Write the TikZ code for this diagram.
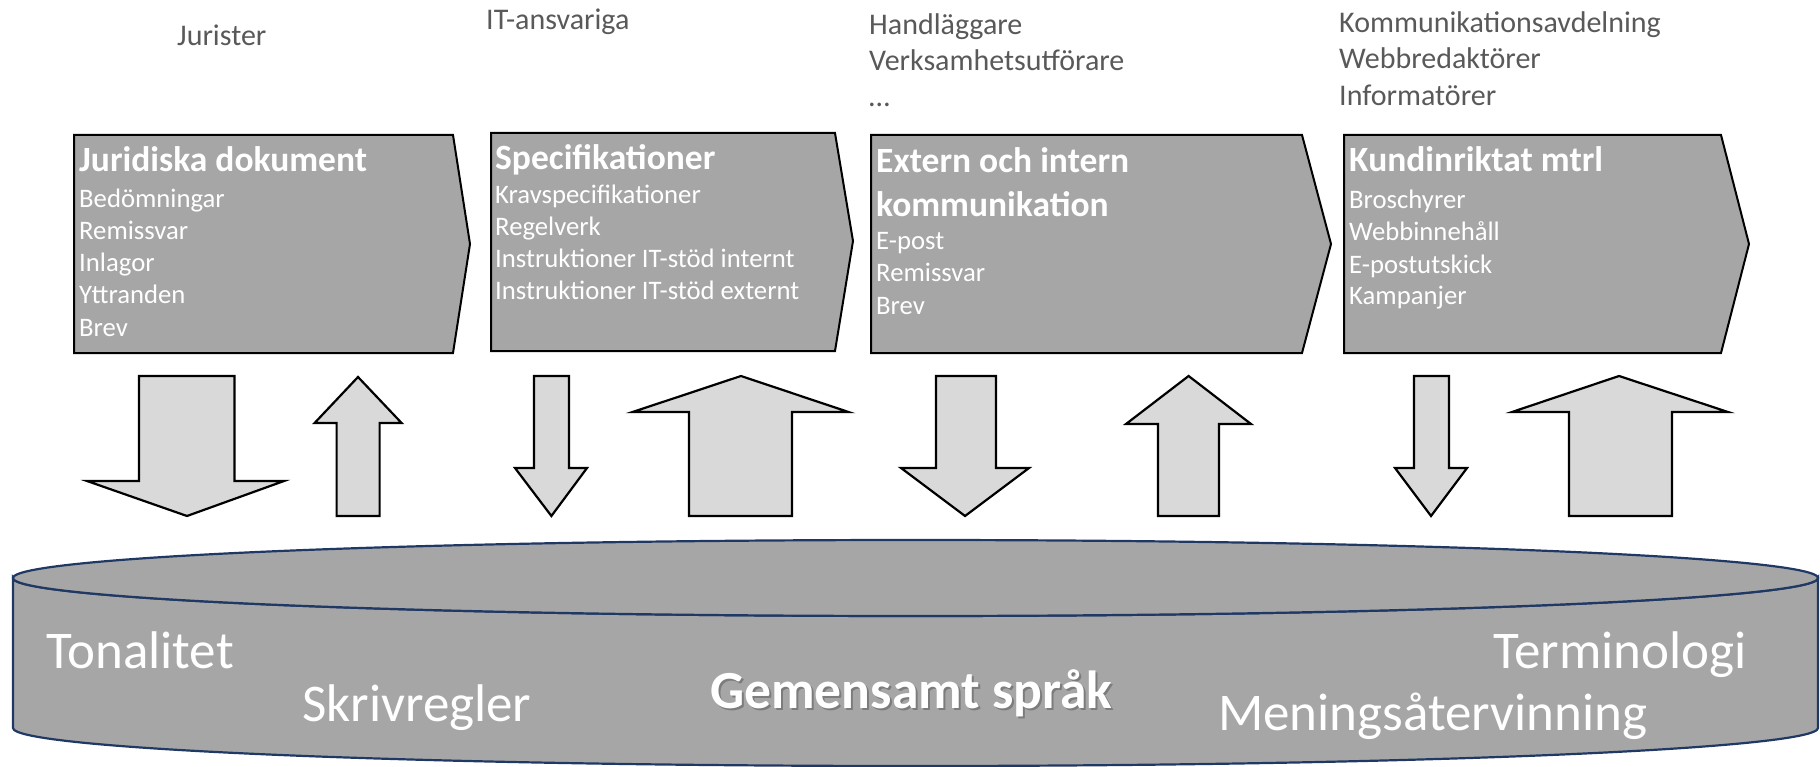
\documentclass[tikz,border=0pt]{standalone}
\usepackage{fontspec}
\setmainfont{Carlito}
\usetikzlibrary{positioning}
\definecolor{boxgray}{HTML}{A6A6A6}
\definecolor{arrgray}{HTML}{D9D9D9}
\definecolor{labgray}{HTML}{595959}
\definecolor{navy}{HTML}{203864}
\tikzset{
  chevbox/.style={fill=boxgray, draw=black, line width=2pt, line join=miter},
  blockarrow/.style={fill=arrgray, draw=black, line width=2.2pt, line join=miter},
  cylbody/.style={fill=boxgray, draw=navy, line width=2.2pt},
  toplabel/.style={anchor=base west, inner sep=0pt, text=labgray, font=\fontsize{30}{36}\selectfont},
  boxtitle/.style={anchor=base west, inner sep=0pt, text=white, font=\fontsize{35.5}{41}\selectfont\bfseries},
  boxitem/.style={anchor=base west, inner sep=0pt, text=white, font=\fontsize{26.7}{32}\selectfont},
  cyltext/.style={anchor=base west, inner sep=0pt, text=white, font=\fontsize{53}{60}\selectfont},
}
\begin{document}
\begin{tikzpicture}[x=1pt, y=-1pt]
\useasboundingbox (0,0) rectangle (1820,767);
% top labels
\node[toplabel] (jur) at (177,46) {Jurister};
\node[toplabel] (itans) at (486,30) {IT-ansvariga};
\node[toplabel] (handl) at (869,35) {Handläggare};
\node[toplabel] (verks) at (869,71) {Verksamhetsutförare};
\node[toplabel] (dots) at (869,107) {…};
\node[toplabel] (komm) at (1339,33) {Kommunikationsavdelning};
\node[toplabel] (webb) at (1339,69) {Webbredaktörer};
\node[toplabel] (info) at (1339,106) {Informatörer};
% boxes
\draw[chevbox] (74,135) -- (453,135) -- (470,244) -- (453,353) -- (74,353) -- cycle;
\draw[chevbox] (491,133) -- (835,133) -- (853,241) -- (835,351) -- (491,351) -- cycle;
\draw[chevbox] (871,135) -- (1302,135) -- (1331,244) -- (1302,353) -- (871,353) -- cycle;
\draw[chevbox] (1344,135) -- (1721,135) -- (1749,244) -- (1721,353) -- (1344,353) -- cycle;
% box 1 text
\node[boxtitle] (t1) at (79,172) {Juridiska dokument};
\node[boxitem] (i11) at (79,208) {Bedömningar};
\node[boxitem] (i12) at (79,240) {Remissvar};
\node[boxitem] (i13) at (79,272) {Inlagor};
\node[boxitem] (i14) at (79,304) {Yttranden};
\node[boxitem] (i15) at (79,336) {Brev};
% box 2 text
\node[boxtitle] (t2) at (495,170) {Specifikationer};
\node[boxitem] (i21) at (495,204) {Kravspecifikationer};
\node[boxitem] (i22) at (495,236) {Regelverk};
\node[boxitem] (i23) at (495,268) {Instruktioner IT-stöd internt};
\node[boxitem] (i24) at (495,300) {Instruktioner IT-stöd externt};
% box 3 text
\node[boxtitle] (t3a) at (876,173) {Extern och intern};
\node[boxtitle] (t3b) at (876,217) {kommunikation};
\node[boxitem] (i31) at (876,250) {E-post};
\node[boxitem] (i32) at (876,282) {Remissvar};
\node[boxitem] (i33) at (876,314) {Brev};
% box 4 text
\node[boxtitle] (t4) at (1349,172) {Kundinriktat mtrl};
\node[boxitem] (i41) at (1349,209) {Broschyrer};
\node[boxitem] (i42) at (1349,241) {Webbinnehåll};
\node[boxitem] (i43) at (1349,273) {E-postutskick};
\node[boxitem] (i44) at (1349,305) {Kampanjer};
% block arrows
\draw[blockarrow] (139,376) -- (234.5,376) -- (234.5,481) -- (284,481) -- (187,516) -- (87,481) -- (139,481) -- cycle;
\draw[blockarrow] (358,377) -- (401.6,423) -- (379.6,423) -- (379.6,516) -- (336.6,516) -- (336.6,423) -- (314.6,423) -- cycle;
\draw[blockarrow] (534,376) -- (569,376) -- (569,468) -- (587,468) -- (551.4,516) -- (515,468) -- (534,468) -- cycle;
\draw[blockarrow] (741,376) -- (848.5,412) -- (792,412) -- (792,516) -- (689,516) -- (689,412) -- (632.6,412) -- cycle;
\draw[blockarrow] (936,376) -- (996,376) -- (996,468) -- (1029,468) -- (965,516) -- (901,468) -- (936,468) -- cycle;
\draw[blockarrow] (1188.6,376) -- (1251,424) -- (1219,424) -- (1219,516) -- (1158,516) -- (1158,424) -- (1126,424) -- cycle;
\draw[blockarrow] (1414,376) -- (1449,376) -- (1449,468) -- (1467,468) -- (1431,516) -- (1395,468) -- (1414,468) -- cycle;
\draw[blockarrow] (1619,376) -- (1728,412) -- (1672,412) -- (1672,516) -- (1569,516) -- (1569,412) -- (1512,412) -- cycle;
% cylinder
\draw[cylbody] (13,578) -- (13,728) arc[start angle=180, end angle=0, x radius=902.5, y radius=38] -- (1818,578) arc[start angle=0, end angle=180, x radius=902.5, y radius=38] -- cycle;
\draw[cylbody] (915.5,578) ellipse[x radius=902.5, y radius=38];
% cylinder texts
\node[cyltext] (ton) at (46,668) {Tonalitet};
\node[cyltext] (skr) at (302,721) {Skrivregler};
\node[cyltext, text=black, opacity=0.25, font=\fontsize{53.6}{60}\selectfont\bfseries] (gemsh) at (712,710) {Gemensamt språk};
\node[cyltext, font=\fontsize{53.6}{60}\selectfont\bfseries] (gem) at (710,708) {Gemensamt språk};
\node[cyltext] (term) at (1493,668) {Terminologi};
\node[cyltext] (men) at (1218,730) {Meningsåtervinning};
\end{tikzpicture}
\end{document}
